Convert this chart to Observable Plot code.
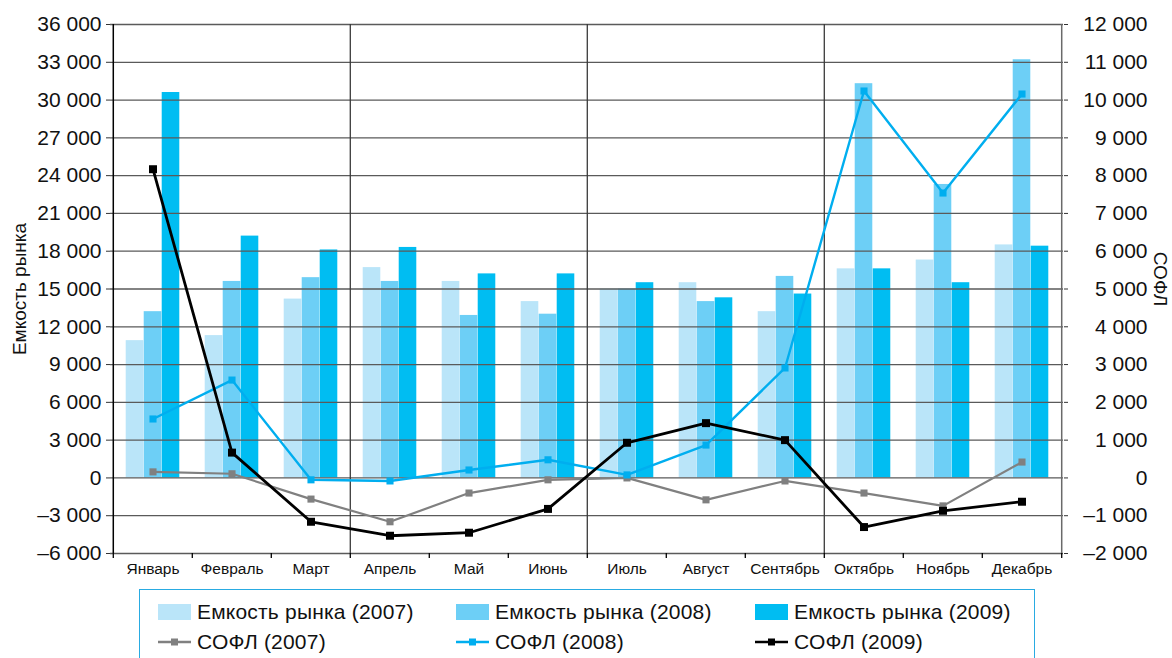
<!DOCTYPE html>
<html>
<head>
<meta charset="utf-8">
<script src="https://cdn.jsdelivr.net/npm/d3@7"></script>
<script src="https://cdn.jsdelivr.net/npm/@observablehq/plot@0.6"></script>
<style>
  html, body { margin: 0; padding: 0; background: #fff; overflow: hidden; }
  body { width: 1172px; height: 658px; position: relative; font-family: "Liberation Sans", Arial, sans-serif; }
  #chart { position: absolute; left: 0; top: 0; }
  #legend { position: absolute; left: 139px; top: 589px; width: 896px; height: 90px; border: 1.3px solid #29abe2; box-sizing: border-box; }
  .item { position: absolute; display: flex; align-items: center; font-size: 21px; letter-spacing: 0.2px; color: #111; white-space: nowrap; height: 24px; }
  .sw { width: 33px; height: 16px; margin-right: 6px; }
  .ln { width: 33px; height: 12px; margin-right: 6px; }
</style>
</head>
<body>
<div id="chart"></div>
<div id="legend"></div>
<script>
const months = ["Январь", "Февраль", "Март", "Апрель", "Май", "Июнь", "Июль", "Август", "Сентябрь", "Октябрь", "Ноябрь", "Декабрь"];
const quarterStarts = ["Апрель", "Июль", "Октябрь"];

// Емкость рынка (left axis)
const capacity2007 = [10900, 11300, 14200, 16700, 15600, 14000, 15000, 15500, 13200, 16600, 17300, 18500];
const capacity2008 = [13200, 15600, 15900, 15600, 12900, 13000, 15000, 14000, 16000, 31300, 23300, 33200];
const capacity2009 = [30600, 19200, 18100, 18300, 16200, 16200, 15500, 14300, 14600, 16600, 15500, 18400];

// СОФЛ (right axis)
const sofl2007 = [160, 110, -560, -1160, -400, -50, 0, -580, -80, -400, -740, 420];
const sofl2008 = [1560, 2590, -50, -80, 210, 480, 80, 870, 2910, 10240, 7540, 10160];
const sofl2009 = [8170, 670, -1160, -1530, -1450, -820, 930, 1450, 1000, -1300, -870, -630];

const leftTicks = [-6000, -3000, 0, 3000, 6000, 9000, 12000, 15000, 18000, 21000, 24000, 27000, 30000, 33000, 36000];
const rightTicks = [-2000, -1000, 0, 1000, 2000, 3000, 4000, 5000, 6000, 7000, 8000, 9000, 10000, 11000, 12000];
const ratio = 3; // left / right

const barSeries = [
  {name: "Емкость рынка (2007)", values: capacity2007, color: "#bae5f9"},
  {name: "Емкость рынка (2008)", values: capacity2008, color: "#6dcff6"},
  {name: "Емкость рынка (2009)", values: capacity2009, color: "#00bdf2"}
];
const lineSeries = [
  {name: "СОФЛ (2007)", values: sofl2007, color: "#808080", width: 2.2, r: 4},
  {name: "СОФЛ (2008)", values: sofl2008, color: "#00aeef", width: 2.4, r: 4},
  {name: "СОФЛ (2009)", values: sofl2009, color: "#000000", width: 2.8, r: 4.5}
];

const W = 1172, H = 585;
const mL = 110, mR = 109, mT = 24, mB = 32;
const bw = (W - mL - mR) / months.length;
const barW = 18;
const inset = (bw - barW) / 2;

const locale = d3.formatLocale({decimal: ",", thousands: "\u00a0", grouping: [3], currency: ["", ""], minus: "\u2013"});
const fmt = locale.format(",d");

const marks = [];
barSeries.forEach((s, i) => {
  const data = months.map((m, j) => ({month: m, value: s.values[j]}));
  marks.push(Plot.barY(data, {x: "month", y: "value", fill: s.color, dx: (i - 1) * barW, insetLeft: inset, insetRight: inset}));
});
// grid lines
marks.push(Plot.ruleY(leftTicks, {stroke: "#5a5a5a", strokeWidth: 1.3}));
// quarter separators & frame
marks.push(Plot.ruleX(quarterStarts, {x: d => d, dx: -bw / 2, stroke: "#3a3a3a", strokeWidth: 1.3}));
marks.push(Plot.ruleX([months[months.length - 1]], {x: d => d, dx: bw / 2, stroke: "#6a6a6a", strokeWidth: 1.5}));
marks.push(Plot.ruleX([months[0]], {x: d => d, dx: -bw / 2, stroke: "#000", strokeWidth: 1.5}));
// bottom ticks between months
marks.push(Plot.ruleX(months, {x: d => d, dx: -bw / 2, y1: leftTicks[0], y2: leftTicks[0], insetBottom: -5, stroke: "#000", strokeWidth: 1.3}));
marks.push(Plot.ruleX([months[months.length - 1]], {x: d => d, dx: bw / 2, y1: leftTicks[0], y2: leftTicks[0], insetBottom: -5, stroke: "#000", strokeWidth: 1.3}));
// lines
lineSeries.forEach(s => {
  const data = months.map((m, j) => ({month: m, value: s.values[j] * ratio}));
  marks.push(Plot.line(data, {x: "month", y: "value", stroke: s.color, strokeWidth: s.width}));
  marks.push(Plot.dot(data, {x: "month", y: "value", symbol: "square", fill: s.color, r: s.r, stroke: "none"}));
});
// axes
marks.push(Plot.axisY(leftTicks, {anchor: "left", tickSize: 4, tickPadding: 5, tickFormat: fmt, fontSize: 21, stroke: "#333"}));
marks.push(Plot.axisY(rightTicks.map(v => v * ratio), {anchor: "right", tickSize: 4, tickPadding: 80, textAnchor: "end", tickFormat: v => fmt(v / ratio), fontSize: 21, stroke: "#333"}));
marks.push(Plot.axisX({anchor: "bottom", tickSize: 0, tickPadding: 9, fontSize: 15.5}));
// axis titles
marks.push(Plot.text(["Емкость рынка"], {frameAnchor: "left", textAnchor: "middle", dx: -91, rotate: -90, fontSize: 19, text: d => d, fill: "#111"}));
marks.push(Plot.text(["СОФЛ"], {frameAnchor: "right", textAnchor: "middle", dx: 97, dy: -10, rotate: 90, fontSize: 19, text: d => d, fill: "#111"}));

const chart = Plot.plot({
  width: W, height: H,
  marginLeft: mL, marginRight: mR, marginTop: mT, marginBottom: mB,
  style: {fontFamily: "'Liberation Sans', Arial, sans-serif", color: "#111", background: "#fff", overflow: "visible"},
  x: {type: "band", domain: months, padding: 0, label: null},
  y: {domain: [leftTicks[0], leftTicks[leftTicks.length - 1]], label: null},
  marks
});
document.getElementById("chart").appendChild(chart);

// legend
const legend = document.getElementById("legend");
const colX = [18, 316, 615];
barSeries.forEach((s, i) => {
  const el = document.createElement("div");
  el.className = "item";
  el.style.left = colX[i] + "px";
  el.style.top = "10px";
  el.innerHTML = `<div class="sw" style="background:${s.color}"></div><span>${s.name}</span>`;
  legend.appendChild(el);
});
lineSeries.forEach((s, i) => {
  const el = document.createElement("div");
  el.className = "item";
  el.style.left = colX[i] + "px";
  el.style.top = "40px";
  el.innerHTML = `<svg class="ln" viewBox="0 0 33 12"><line x1="0" y1="6" x2="33" y2="6" stroke="${s.color}" stroke-width="2.4"/><rect x="13" y="2.5" width="7" height="7" fill="${s.color}"/></svg><span>${s.name}</span>`;
  legend.appendChild(el);
});
</script>
</body>
</html>
